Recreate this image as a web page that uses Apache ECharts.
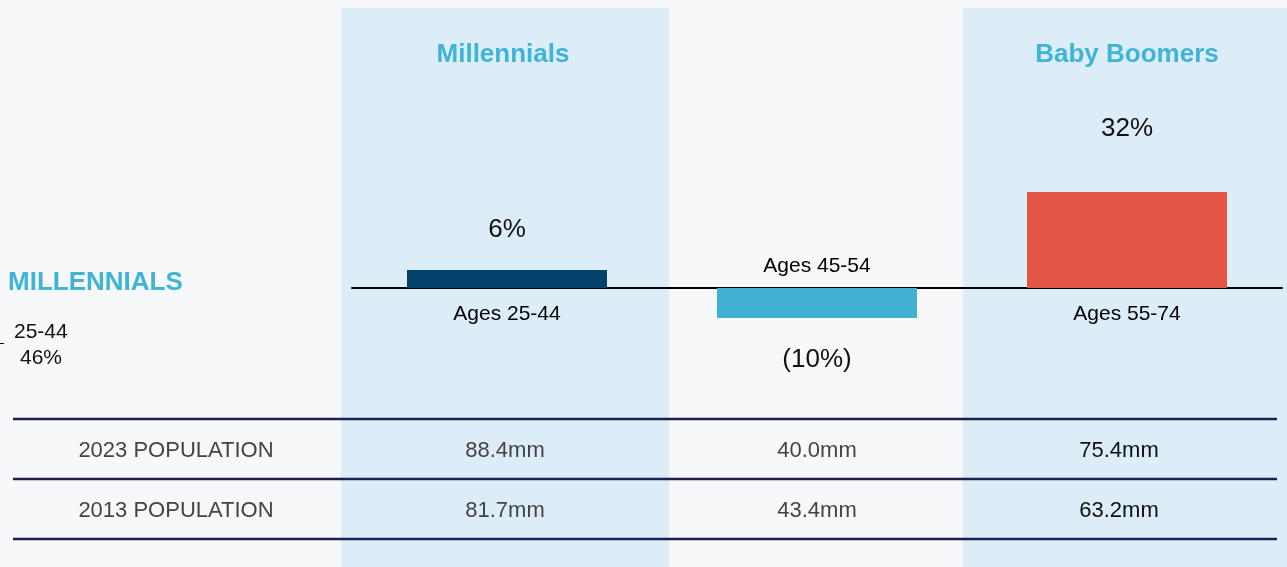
<!DOCTYPE html>
<html>
<head>
<meta charset="utf-8">
<script src="https://cdn.jsdelivr.net/npm/echarts@6/dist/echarts.min.js"></script>
<style>
html,body{margin:0;padding:0;background:#f6f8fa;}
#chart{width:1287px;height:567px;}
</style>
</head>
<body>
<div id="chart"></div>
<script>
// ---- data ----
var categories = ['Ages 25-44', 'Ages 45-54', 'Ages 55-74'];
var growthPct = [6, -10, 32];
var generationHeaders = ['Millennials', '', 'Baby Boomers'];
var rowLabels = ['2023 POPULATION', '2013 POPULATION'];
var pop2023 = ['88.4mm', '40.0mm', '75.4mm'];
var pop2013 = ['81.7mm', '43.4mm', '63.2mm'];
var sideTitle = 'MILLENNIALS';
var sideRange = '25-44';
var sideShare = '46%';

var FONT = '"Liberation Sans", Arial, sans-serif';
var barColors = ['#03406b', '#40b0d3', '#e25444'];
var labelDist = [27, 29, 50];
var catDist = [16, 11, 16];
var colCenters = [505, 817, 1119];
var rowY = [451, 511];

var chart = echarts.init(document.getElementById('chart'));

var graphics = [];
// panels
graphics.push({type:'rect', z:-10, shape:{x:341,y:8,width:328,height:559}, style:{fill:'#dcedf8'}});
graphics.push({type:'rect', z:-10, shape:{x:963,y:8,width:324,height:559}, style:{fill:'#dcedf8'}});
// headers
var headerX = [503, 817, 1127];
generationHeaders.forEach(function(h, i){
  if (!h) return;
  graphics.push({type:'text', x:headerX[i], y:55, style:{text:h, fill:'#40b4d6', font:'bold 26px ' + FONT, align:'center', verticalAlign:'middle'}});
});
// side text
graphics.push({type:'text', x:8, y:283, style:{text:sideTitle, fill:'#40b4d6', font:'bold 26px ' + FONT, align:'left', verticalAlign:'middle'}});
graphics.push({type:'text', x:14, y:332, style:{text:sideRange, fill:'#111', font:'21px ' + FONT, align:'left', verticalAlign:'middle'}});
graphics.push({type:'text', x:20, y:358, style:{text:sideShare, fill:'#111', font:'21px ' + FONT, align:'left', verticalAlign:'middle'}});
graphics.push({type:'line', shape:{x1:0,y1:343.5,x2:4,y2:343.5}, style:{stroke:'#111', lineWidth:1}});
// table lines
[419, 479, 539].forEach(function(y){
  graphics.push({type:'line', shape:{x1:13,y1:y,x2:1277,y2:y}, style:{stroke:'#1c2050', lineWidth:2.5}});
});
// table text
var rows = [pop2023, pop2013];
rows.forEach(function(row, r){
  graphics.push({type:'text', x:176, y:rowY[r], style:{text:rowLabels[r], fill:'#444', font:'22px ' + FONT, align:'center', verticalAlign:'middle'}});
  row.forEach(function(v, c){
    graphics.push({type:'text', x:colCenters[c], y:rowY[r], style:{text:v, fill: c === 2 ? '#111' : '#444', font:'22px ' + FONT, align:'center', verticalAlign:'middle'}});
  });
});

chart.setOption({
  backgroundColor: '#f6f8fa',
  animation: false,
  grid: {left:352, right:5, top:168, bottom:99},
  xAxis: {
    type:'category', data:categories,
    axisLine:{onZero:true, lineStyle:{color:'#000', width:2}},
    axisTick:{show:false}, axisLabel:{show:false}, splitLine:{show:false}
  },
  yAxis: {
    type:'value', min:-60, max:40, show:false, splitLine:{show:false}
  },
  series: [
    {
      type:'bar', barWidth:200,
      data: growthPct.map(function(v, i){
        return {
          value: v,
          itemStyle:{color:barColors[i]},
          label:{show:true, position: v >= 0 ? 'top' : 'bottom', distance: labelDist[i],
            formatter: v >= 0 ? v + '%' : '(' + Math.abs(v) + '%)',
            color:'#111', fontSize:26, fontFamily:FONT}
        };
      })
    },
    {
      type:'scatter', symbolSize:0, silent:true, z:5,
      itemStyle:{opacity:1},
      data: categories.map(function(c, i){
        return {
          value:[i, 0],
          label:{show:true, position: growthPct[i] >= 0 ? 'bottom' : 'top', distance: catDist[i],
            formatter:c, color:'#000', fontSize:21, fontFamily:FONT, opacity:1}
        };
      })
    }
  ],
  graphic: graphics
});
</script>
</body>
</html>
